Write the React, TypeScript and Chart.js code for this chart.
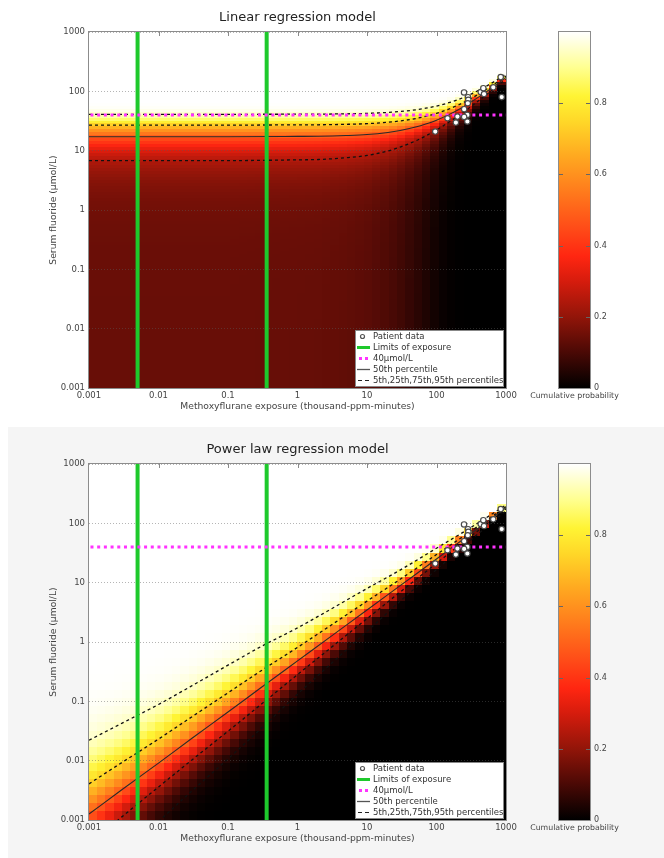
import React, { useEffect, useRef } from 'react';
import { Chart, registerables } from 'chart.js';

Chart.register(...registerables);

const FONT = "'DejaVu Sans', 'Liberation Sans', sans-serif";

// ---- axis ticks ----
const xTickValues = [0.001, 0.01, 0.1, 1, 10, 100, 1000];
const xTickLabels = ['0.001', '0.01', '0.1', '1', '10', '100', '1000'];
const yTickValues = [0.001, 0.01, 0.1, 1, 10, 100, 1000];
const yTickLabels = ['0.001', '0.01', '0.1', '1', '10', '100', '1000'];
const cbTickValues = [0, 0.2, 0.4, 0.6, 0.8];
const cbTickLabels = ['0', '0.2', '0.4', '0.6', '0.8'];

const titles = ['Linear regression model', 'Power law regression model'];
const xAxisTitle = 'Methoxyflurane exposure (thousand-ppm-minutes)';
const yAxisTitle = 'Serum fluoride (µmol/L)';
const cbTitle = 'Cumulative probability';
const legendLabels = ['Patient data', 'Limits of exposure', '40µmol/L', '50th percentile', '5th,25th,75th,95th percentiles'];

// ---- reference lines ----
const exposureLimits = [0.005, 0.36];
const fluorideLimit = 40;

// ---- patient data ----
const patientX = [249, 284, 287, 282, 250, 278, 250, 200, 190, 278, 144, 96, 433, 472, 483, 656, 840, 867];
const patientY = [95.7, 79.6, 71.8, 63, 50, 40, 37, 37.6, 29.8, 31, 35.2, 21, 97, 113, 90, 117, 174, 80];

// ---- linear regression model percentiles (µmol/L) ----
const linX = [0.001, 0.01, 0.1, 1, 2, 5, 10, 20, 30, 50, 70, 100, 150, 200, 300, 500, 700, 1000];
// 5th percentile lies below zero at low exposure (off the log axis) – estimated
const linP05 = [-9.8, -9.8, -9.8, -9.6, -9.5, -9, -8.3, -6.7, -5.1, -2, 1.1, 5.7, 13.5, 21, 36.7, 68, 98.7, 145];
const linP25 = [6.8, 6.8, 6.8, 7.0, 7.1, 7.6, 8.3, 9.9, 11.5, 14.6, 17.7, 22.3, 30.1, 37.6, 53.3, 84.6, 115.3, 161.6];
const linP50 = [17.2, 17.2, 17.2, 17.4, 17.5, 18.0, 18.7, 20.3, 21.9, 25, 28.1, 32.7, 40.5, 48, 63.7, 95, 125.7, 172];
const linP75 = [27, 27, 27, 27.2, 27.3, 27.8, 28.5, 30.1, 31.7, 34.8, 37.9, 42.5, 50.3, 57.8, 73.5, 104.8, 135.5, 181.8];
const linP95 = [41, 41, 41, 41.2, 41.3, 41.8, 42.5, 44.1, 45.7, 48.8, 51.9, 56.5, 64.3, 71.8, 87.5, 118.8, 149.5, 195.8];

// ---- power law regression model percentiles (µmol/L) ----
const powX = [0.001, 0.003, 0.01, 0.03, 0.1, 0.3, 1, 3, 10, 30, 100, 300, 1000];
const powP05 = [0.0000716, 0.000248, 0.00094, 0.00305, 0.0107, 0.0348, 0.132, 0.426, 1.51, 4.86, 16.6, 50.5, 163];
const powP25 = [0.00039, 0.00114, 0.0036, 0.0102, 0.0313, 0.0891, 0.282, 0.796, 2.47, 6.95, 21.2, 58.3, 174];
const powP50 = [0.00126, 0.00326, 0.0091, 0.0236, 0.066, 0.171, 0.48, 1.23, 3.47, 8.9, 25, 65, 182];
const powP75 = [0.00407, 0.00935, 0.0231, 0.0546, 0.139, 0.328, 0.811, 1.9, 4.88, 11.4, 29.8, 71.4, 190.5];
const powP95 = [0.0221, 0.0429, 0.0885, 0.182, 0.407, 0.84, 1.73, 3.56, 7.98, 16.3, 38.1, 82.6, 204];

// ---- colour map (cumulative probability) ----
const cmapPos = [0, 0.1, 0.2, 0.3, 0.37, 0.45, 0.55, 0.65, 0.75, 0.82, 0.9, 1];
const cmapHex = ['#000000', '#4a0905', '#921509', '#d61c0d', '#ff2611', '#ff4c18', '#ff7a1c', '#ffa820', '#ffd828', '#fff434', '#ffff90', '#ffffff'];

const zKnots = [-1.645, -0.674, 0, 0.674, 1.645];

type Model = {
  xs: number[];
  pct: number[][];
  logSpace: boolean;
  cols: number;
  rows: number;
  dashed: number[][];
  median: number[];
};

const linearModel: Model = {
  xs: linX,
  pct: [linP05, linP25, linP50, linP75, linP95],
  logSpace: false,
  cols: 50,
  rows: 120,
  dashed: [linP25, linP75, linP95],
  median: linP50,
};

const powerModel: Model = {
  xs: powX,
  pct: [powP05, powP25, powP50, powP75, powP95],
  logSpace: true,
  cols: 50,
  rows: 44,
  dashed: [powP05, powP25, powP75, powP95],
  median: powP50,
};

const cmapRgb = cmapHex.map((h) => [parseInt(h.slice(1, 3), 16), parseInt(h.slice(3, 5), 16), parseInt(h.slice(5, 7), 16)]);

function colorAt(p: number): string {
  const v = Math.max(0, Math.min(1, p));
  let k = 0;
  while (k < cmapPos.length - 2 && v > cmapPos[k + 1]) k++;
  const f = (v - cmapPos[k]) / (cmapPos[k + 1] - cmapPos[k]);
  const a = cmapRgb[k], b = cmapRgb[k + 1];
  const c = a.map((x, i) => Math.round(x + (b[i] - x) * f));
  return `rgb(${c[0]},${c[1]},${c[2]})`;
}

function phi(z: number): number {
  const t = 1 / (1 + 0.2316419 * Math.abs(z));
  const d = 0.3989423 * Math.exp((-z * z) / 2);
  const p = d * t * (0.3193815 + t * (-0.3565638 + t * (1.781478 + t * (-1.821256 + t * 1.330274))));
  return z > 0 ? 1 - p : p;
}

function percentilesAt(m: Model, lx: number): number[] {
  const lxs = m.xs.map((x) => Math.log10(x));
  let k = 0;
  while (k < lxs.length - 2 && lx > lxs[k + 1]) k++;
  const f = (lx - lxs[k]) / (lxs[k + 1] - lxs[k]);
  const tr = (v: number) => (m.logSpace ? Math.log10(v) : v);
  return m.pct.map((a) => tr(a[k]) + f * (tr(a[k + 1]) - tr(a[k])));
}

function cdfAt(knots: number[], v: number): number {
  let k = 0;
  while (k < knots.length - 2 && v > knots[k + 1]) k++;
  const z = zKnots[k] + ((v - knots[k]) * (zKnots[k + 1] - zKnots[k])) / (knots[k + 1] - knots[k]);
  return phi(z);
}

function heatmapPlugin(m: Model) {
  return {
    id: 'heatmap',
    beforeDraw(chart: any) {
      const { ctx, chartArea: ca, scales } = chart;
      const xs = scales.x, ys = scales.y;
      const lxMin = Math.log10(xTickValues[0]), lxMax = Math.log10(xTickValues[xTickValues.length - 1]);
      const lyMin = Math.log10(yTickValues[0]), lyMax = Math.log10(yTickValues[yTickValues.length - 1]);
      ctx.save();
      ctx.beginPath();
      ctx.rect(ca.left, ca.top, ca.right - ca.left, ca.bottom - ca.top);
      ctx.clip();
      for (let i = 0; i < m.cols; i++) {
        const lx0 = lxMin + ((lxMax - lxMin) * i) / m.cols;
        const lx1 = lxMin + ((lxMax - lxMin) * (i + 1)) / m.cols;
        const knots = percentilesAt(m, (lx0 + lx1) / 2);
        const px0 = Math.floor(xs.getPixelForValue(10 ** lx0));
        const px1 = Math.floor(xs.getPixelForValue(10 ** lx1));
        for (let j = 0; j < m.rows; j++) {
          const ly0 = lyMin + ((lyMax - lyMin) * j) / m.rows;
          const ly1 = lyMin + ((lyMax - lyMin) * (j + 1)) / m.rows;
          const lyc = (ly0 + ly1) / 2;
          const v = m.logSpace ? lyc : 10 ** lyc;
          ctx.fillStyle = colorAt(cdfAt(knots, v));
          const py0 = Math.floor(ys.getPixelForValue(10 ** ly0));
          const py1 = Math.floor(ys.getPixelForValue(10 ** ly1));
          ctx.fillRect(px0, py1, px1 - px0, py0 - py1);
        }
      }
      ctx.restore();
    },
  };
}

function overlayPlugin(title: string) {
  return {
    id: 'overlay',
    afterDraw(chart: any) {
      const { ctx, chartArea: ca, scales } = chart;
      ctx.save();
      // inward top ticks
      ctx.strokeStyle = '#8a8a8a';
      ctx.lineWidth = 1;
      xTickValues.slice(1, -1).forEach((v) => {
        const px = Math.round(scales.x.getPixelForValue(v)) + 0.5;
        ctx.beginPath();
        ctx.moveTo(px, ca.top);
        ctx.lineTo(px, ca.top + 4);
        ctx.stroke();
      });
      // frame
      ctx.strokeStyle = '#8c8c8c';
      ctx.strokeRect(ca.left - 0.5, ca.top - 0.5, ca.right - ca.left + 1, ca.bottom - ca.top + 1);
      // titles
      ctx.textAlign = 'center';
      ctx.textBaseline = 'middle';
      ctx.fillStyle = '#222222';
      ctx.font = `13px ${FONT}`;
      ctx.fillText(title, (ca.left + ca.right) / 2, 18);
      ctx.fillStyle = '#444444';
      ctx.font = `9.2px ${FONT}`;
      ctx.fillText(xAxisTitle, (ca.left + ca.right) / 2, ca.bottom + 18.5);
      ctx.save();
      ctx.translate(54, (ca.top + ca.bottom) / 2);
      ctx.rotate(-Math.PI / 2);
      ctx.fillText(yAxisTitle, 0, 0);
      ctx.restore();
      // legend
      const lw = 149, lh = 57;
      const lx = ca.right - 151, ly = ca.bottom - 58;
      ctx.fillStyle = '#ffffff';
      ctx.fillRect(lx, ly, lw, lh);
      ctx.strokeStyle = '#888888';
      ctx.lineWidth = 1;
      ctx.strokeRect(lx + 0.5, ly + 0.5, lw - 1, lh - 1);
      const mx0 = lx + 2, mx1 = lx + 15, tx = lx + 18;
      legendLabels.forEach((label, k) => {
        const cy = ly + 6.5 + k * 11;
        if (k === 0) {
          ctx.beginPath();
          ctx.arc((mx0 + mx1) / 2 - 1, cy, 2, 0, Math.PI * 2);
          ctx.fillStyle = '#ffffff';
          ctx.fill();
          ctx.strokeStyle = '#555555';
          ctx.lineWidth = 1.2;
          ctx.stroke();
        } else if (k === 1) {
          ctx.strokeStyle = '#1ec92c';
          ctx.lineWidth = 3;
          ctx.beginPath();
          ctx.moveTo(mx0, cy);
          ctx.lineTo(mx1, cy);
          ctx.stroke();
        } else if (k === 2) {
          ctx.fillStyle = '#ff33ff';
          ctx.fillRect(mx0 + 2, cy - 1.5, 3, 3);
          ctx.fillRect(mx0 + 8, cy - 1.5, 3, 3);
        } else if (k === 3) {
          ctx.strokeStyle = '#555555';
          ctx.lineWidth = 1.3;
          ctx.beginPath();
          ctx.moveTo(mx0, cy);
          ctx.lineTo(mx1, cy);
          ctx.stroke();
        } else {
          ctx.strokeStyle = '#222222';
          ctx.lineWidth = 1.2;
          ctx.beginPath();
          ctx.moveTo(mx0 + 1, cy);
          ctx.lineTo(mx0 + 5, cy);
          ctx.moveTo(mx0 + 8, cy);
          ctx.lineTo(mx0 + 12, cy);
          ctx.stroke();
        }
        ctx.fillStyle = '#333333';
        ctx.font = `8.5px ${FONT}`;
        ctx.textAlign = 'left';
        ctx.textBaseline = 'middle';
        ctx.fillText(label, tx, cy);
      });
      ctx.restore();
    },
  };
}

function tickLabel(values: number[], labels: string[]) {
  return (v: any) => {
    const n = Number(v);
    const i = values.findIndex((t) => (t === 0 ? Math.abs(n) < 1e-9 : Math.abs(t - n) / t < 1e-6));
    return i >= 0 ? labels[i] : '';
  };
}

function mainConfig(title: string, m: Model): any {
  const toPts = (arr: number[]) => m.xs.map((x, i) => ({ x, y: arr[i] }));
  const datasets: any[] = [
    {
      type: 'scatter',
      data: patientX.map((x, i) => ({ x, y: patientY[i] })),
      pointRadius: 2.7,
      pointBackgroundColor: '#ffffff',
      pointBorderColor: '#4a4a4a',
      pointBorderWidth: 1.2,
      order: 0,
    },
    {
      type: 'line',
      data: [{ x: 0.00105, y: fluorideLimit }, { x: 1000, y: fluorideLimit }],
      borderColor: '#ff33ff',
      borderWidth: 3,
      borderDash: [3, 3.7],
      pointRadius: 0,
      order: 1,
    },
    ...exposureLimits.map((x) => ({
      type: 'line',
      data: [{ x, y: yTickValues[0] }, { x, y: yTickValues[yTickValues.length - 1] }],
      borderColor: '#1ec92c',
      borderWidth: 4,
      pointRadius: 0,
      order: 2,
    })),
    {
      type: 'line',
      data: toPts(m.median),
      borderColor: '#2a2a2a',
      borderWidth: 1.1,
      pointRadius: 0,
      cubicInterpolationMode: 'monotone',
      order: 3,
    },
    ...m.dashed.map((arr) => ({
      type: 'line',
      data: toPts(arr),
      borderColor: '#111111',
      borderWidth: 1.3,
      borderDash: [3, 3],
      pointRadius: 0,
      cubicInterpolationMode: 'monotone',
      order: 3,
    })),
  ];
  return {
    type: 'scatter',
    data: { datasets },
    options: {
      animation: false,
      responsive: false,
      maintainAspectRatio: false,
      devicePixelRatio: 1,
      events: [],
      layout: { padding: { top: 32, right: 14, left: 0, bottom: 0 } },
      scales: {
        x: {
          type: 'logarithmic',
          min: xTickValues[0],
          max: xTickValues[xTickValues.length - 1],
          afterBuildTicks: (s: any) => {
            s.ticks = xTickValues.map((v) => ({ value: v }));
          },
          afterFit: (s: any) => {
            s.height = 37;
          },
          ticks: {
            callback: tickLabel(xTickValues, xTickLabels),
            font: { family: FONT, size: 8.5 },
            color: '#444444',
            padding: 3,
            autoSkip: false,
            maxRotation: 0,
          },
          grid: { display: false, drawTicks: false },
          border: { display: false },
        },
        y: {
          type: 'logarithmic',
          min: yTickValues[0],
          max: yTickValues[yTickValues.length - 1],
          afterBuildTicks: (s: any) => {
            s.ticks = yTickValues.map((v) => ({ value: v }));
          },
          afterFit: (s: any) => {
            s.width = 89;
          },
          ticks: {
            callback: tickLabel(yTickValues, yTickLabels),
            font: { family: FONT, size: 8.5 },
            color: '#444444',
            padding: 4,
            autoSkip: false,
          },
          grid: { color: 'rgba(90,90,90,0.45)', lineWidth: 1, drawTicks: false },
          border: { display: false, dash: [1, 2] },
        },
      },
      plugins: { legend: { display: false }, tooltip: { enabled: false }, title: { display: false } },
    },
    plugins: [heatmapPlugin(m), overlayPlugin(title)],
  };
}

const cbOverlay = {
  id: 'cbOverlay',
  afterDraw(chart: any) {
    const { ctx, chartArea: ca, scales } = chart;
    ctx.save();
    ctx.strokeStyle = '#666666';
    ctx.lineWidth = 1;
    cbTickValues.slice(1).forEach((v) => {
      const py = Math.round(scales.y.getPixelForValue(v)) + 0.5;
      ctx.beginPath();
      ctx.moveTo(ca.left, py);
      ctx.lineTo(ca.left + 4, py);
      ctx.moveTo(ca.right, py);
      ctx.lineTo(ca.right - 4, py);
      ctx.stroke();
    });
    ctx.strokeStyle = '#8c8c8c';
    ctx.strokeRect(ca.left - 0.5, ca.top - 0.5, ca.right - ca.left + 1, ca.bottom - ca.top + 1);
    ctx.fillStyle = '#444444';
    ctx.font = `7.8px ${FONT}`;
    ctx.textAlign = 'center';
    ctx.textBaseline = 'middle';
    ctx.fillText(cbTitle, (ca.left + ca.right) / 2, ca.bottom + 8);
    ctx.restore();
  },
};

function cbConfig(): any {
  return {
    type: 'bar',
    data: {
      labels: ['p'],
      datasets: [
        {
          data: [[0, 1]],
          backgroundColor: (c: any) => {
            const ch = c.chart;
            if (!ch.chartArea || !ch.scales.y) return '#000000';
            const g = ch.ctx.createLinearGradient(0, ch.scales.y.getPixelForValue(0), 0, ch.scales.y.getPixelForValue(1));
            cmapPos.forEach((p, i) => g.addColorStop(p, cmapHex[i]));
            return g;
          },
          borderWidth: 0,
          barPercentage: 1,
          categoryPercentage: 1,
        },
      ],
    },
    options: {
      animation: false,
      responsive: false,
      maintainAspectRatio: false,
      devicePixelRatio: 1,
      events: [],
      layout: { padding: { left: 39, top: 32, bottom: 37, right: 0 } },
      scales: {
        x: { display: false },
        y: {
          position: 'right',
          min: 0,
          max: 1,
          afterBuildTicks: (s: any) => {
            s.ticks = cbTickValues.map((v) => ({ value: v }));
          },
          afterFit: (s: any) => {
            s.width = 74;
          },
          ticks: {
            callback: tickLabel(cbTickValues, cbTickLabels),
            font: { family: FONT, size: 8 },
            color: '#444444',
            padding: 4,
          },
          grid: { display: false, drawTicks: false },
          border: { display: false },
        },
      },
      plugins: { legend: { display: false }, tooltip: { enabled: false } },
    },
    plugins: [cbOverlay],
  };
}

function ChartPanel({ title, model }: { title: string; model: Model }) {
  const mainRef = useRef<HTMLCanvasElement>(null);
  const cbRef = useRef<HTMLCanvasElement>(null);
  useEffect(() => {
    const main = new Chart(mainRef.current as HTMLCanvasElement, mainConfig(title, model));
    const cb = new Chart(cbRef.current as HTMLCanvasElement, cbConfig());
    return () => {
      main.destroy();
      cb.destroy();
    };
  }, [title, model]);
  return (
    <div style={{ position: 'relative', width: 664, height: 425 }}>
      <canvas ref={mainRef} width={520} height={425} style={{ position: 'absolute', left: 0, top: 0, width: 520, height: 425 }} />
      <canvas ref={cbRef} width={144} height={425} style={{ position: 'absolute', left: 520, top: 0, width: 144, height: 425 }} />
    </div>
  );
}

export default function App() {
  return (
    <div style={{ position: 'absolute', left: 0, top: 0, width: 664, height: 858, background: '#ffffff', overflow: 'hidden' }}>
      <div style={{ position: 'absolute', left: 8, top: 427, width: 656, height: 431, background: '#f5f5f5' }} />
      <div style={{ position: 'absolute', left: 0, top: 0 }}>
        <ChartPanel title={titles[0]} model={linearModel} />
      </div>
      <div style={{ position: 'absolute', left: 0, top: 432 }}>
        <ChartPanel title={titles[1]} model={powerModel} />
      </div>
    </div>
  );
}
